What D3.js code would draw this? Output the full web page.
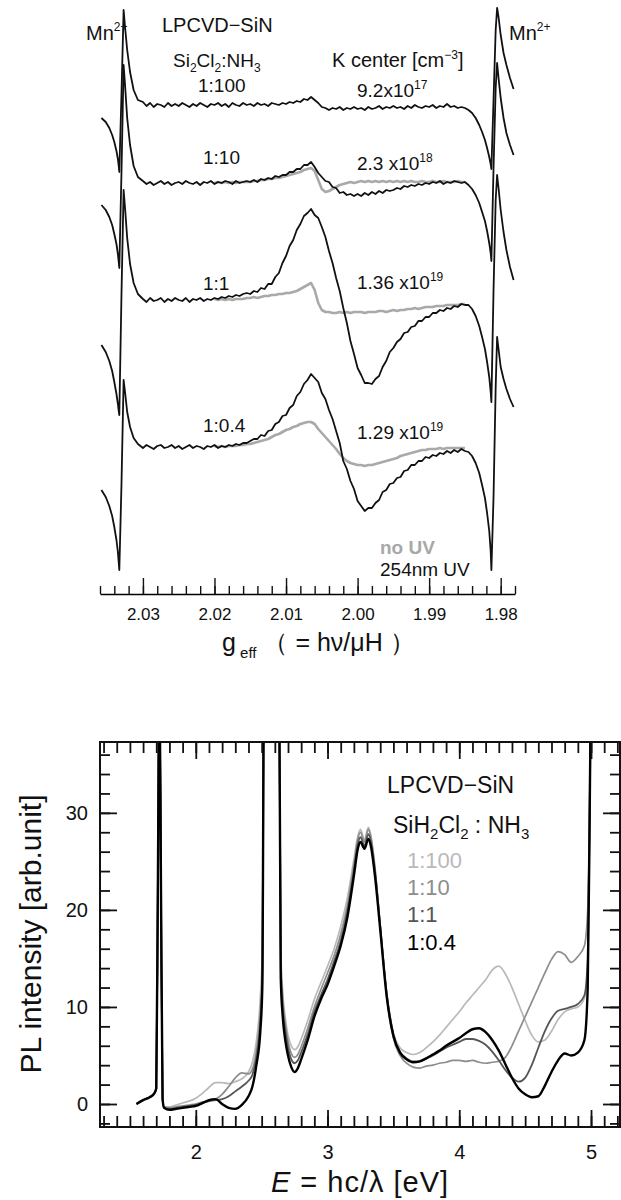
<!DOCTYPE html>
<html>
<head>
<meta charset="utf-8">
<script src="https://cdn.jsdelivr.net/npm/d3@7"></script>
<style>
  body { margin: 0; background: #fff; }
  svg { display: block; }
  text { font-family: "Liberation Sans", Arial, sans-serif; fill: #111; }
</style>
</head>
<body>
<svg id="fig" width="621" height="1200"></svg>
<script>
// ================= EPR spectra (upper panel) =================
// g-value sampling grid shared by all EPR traces
const gGrid = [
  2.0358, 2.0352, 2.0347, 2.0343, 2.0340, 2.0337, 2.0335, 2.0334, 2.0333, 2.0330, 2.0327, 2.0325, 2.0322, 2.0318, 2.0313, 2.0307,
  2.0300, 2.0295, 2.0290, 2.0285, 2.0280, 2.0275, 2.0270, 2.0265, 2.0260, 2.0255,
  2.0250, 2.0245, 2.0240, 2.0235, 2.0230, 2.0225, 2.0220, 2.0215, 2.0210, 2.0205,
  2.0200, 2.0195, 2.0190, 2.0185, 2.0180, 2.0175, 2.0170, 2.0165, 2.0160, 2.0155,
  2.0150, 2.0145, 2.0140, 2.0135, 2.0130, 2.0125, 2.0120, 2.0115, 2.0110, 2.0105,
  2.0100, 2.0095, 2.0090, 2.0085, 2.0080, 2.0075, 2.0070, 2.0065, 2.0060, 2.0055,
  2.0050, 2.0045, 2.0040, 2.0035, 2.0030, 2.0025, 2.0020, 2.0015, 2.0010, 2.0005,
  2.0000, 1.9995, 1.9990, 1.9985, 1.9980, 1.9975, 1.9970, 1.9965, 1.9960, 1.9955,
  1.9950, 1.9945, 1.9940, 1.9935, 1.9930, 1.9925, 1.9920, 1.9915, 1.9910, 1.9905,
  1.9900, 1.9895, 1.9890, 1.9885, 1.9880, 1.9875, 1.9870, 1.9865, 1.9860, 1.9855,
  1.9850,
  1.9845, 1.9840, 1.9835, 1.9830, 1.9826, 1.9822, 1.9819, 1.9816, 1.9814, 1.9813, 1.9810, 1.9807, 1.9805, 1.9803, 1.9800, 1.9796, 1.9792, 1.9787, 1.9782
];

// 254 nm UV irradiated spectra (arb. units, relative to each trace's baseline)
const epr100 = [
  -13,-17,-23,-30,-37,-46,-54,-60,-67,10,95,78,55,33,15,5,
  3,-1,2,-2,1,0,-2,2,-1,1,
  -1,2,0,-2,1,-1,2,0,-2,1,
  0,2,-1,1,-2,2,0,-1,2,0,
  1,-1,2,0,1,-1,2,1,0,2,
  1,3,2,4,3,6,5,8,5,2,
  -2,-3,-5,-3,-4,-2,-5,-3,-4,-2,
  -4,-3,-5,-2,-4,-3,-1,-4,-2,-3,
  -1,-3,-2,-4,-1,-3,0,-2,-3,-1,
  -2,0,-3,-1,-2,1,-2,-1,-3,-2,
  -3,
  -5,-8,-13,-20,-27,-35,-43,-52,-59,-64,5,75,97,88,70,52,40,27,16
];
const epr10 = [
  -22,-27,-34,-42,-51,-61,-71,-78,-85,10,118,98,65,38,17,6,
  2,-1,1,-2,0,2,-1,1,-2,0,
  1,-1,2,0,-1,1,-2,1,0,2,
  -1,1,0,2,1,-1,2,0,1,2,
  1,3,1,4,3,5,4,7,6,8,
  8,11,11,14,14,18,18,21,16,10,
  6,2,1,-4,-5,-10,-9,-12,-11,-13,
  -11,-13,-10,-12,-9,-11,-8,-10,-7,-8,
  -7,-5,-6,-3,-4,-2,-3,-1,-2,0,
  -1,1,0,2,-1,1,0,2,1,0,
  1,
  -2,-6,-12,-20,-29,-38,-48,-60,-70,-78,15,95,120,105,85,65,50,38,28
];
const epr1 = [
  -45,-52,-61,-71,-82,-94,-104,-110,-115,5,110,92,62,36,17,6,
  1,-2,2,-1,0,2,-2,1,-1,2,
  0,-1,2,-2,1,0,2,-1,1,0,
  2,1,3,2,4,3,5,4,6,7,
  6,9,8,12,11,16,16,23,27,37,
  44,54,60,70,76,84,87,91,85,82,
  73,63,49,37,22,9,-8,-23,-41,-54,
  -68,-75,-83,-83,-84,-79,-76,-67,-61,-52,
  -48,-42,-39,-33,-32,-27,-26,-21,-21,-17,
  -17,-13,-13,-10,-11,-8,-9,-6,-7,-4,
  -5,
  -5,-9,-16,-26,-37,-49,-62,-77,-92,-102,10,100,125,112,90,68,50,33,20
];
const epr04 = [
  -43,-50,-59,-69,-80,-93,-105,-114,-123,-38,67,55,35,20,9,3,
  -1,2,0,-2,1,2,-1,0,2,-1,
  1,-2,0,2,-1,1,0,-2,1,0,
  2,-1,1,0,2,1,3,2,4,4,
  6,8,8,12,11,16,17,23,25,31,
  32,39,42,51,55,63,67,73,69,65,
  54,48,37,28,16,4,-14,-22,-34,-42,
  -54,-59,-64,-61,-61,-56,-53,-45,-43,-37,
  -36,-31,-30,-24,-23,-18,-18,-14,-14,-10,
  -11,-8,-9,-6,-7,-4,-6,-3,-5,-2,
  -4,
  -5,-9,-16,-26,-38,-51,-66,-84,-104,-123,-50,60,110,98,80,68,58,48,40
];

// spectra without UV, g = 2.0200 ... 1.9850
const noUV10 = [
  0,1,0,1,0,1,0,1,1,1,
  1,2,2,3,3,4,4,5,5,6,
  7,8,9,10,11,13,14,15,12,3,
  -6,-9,-8,-6,-4,-2,-1,0,1,0,
  1,2,1,2,1,2,1,2,1,2,
  1,2,1,2,1,2,1,1,2,1,
  1,2,1,1,2,1,1,1,2,1,1
];
const noUV1 = [
  1,0,1,0,1,0,1,1,1,2,
  2,3,2,3,4,4,5,5,6,6,
  7,7,8,9,11,13,15,17,10,-3,
  -10,-12,-12,-13,-13,-12,-13,-12,-13,-12,
  -12,-12,-13,-12,-12,-12,-11,-11,-12,-11,
  -10,-11,-10,-10,-9,-9,-8,-9,-8,-7,
  -7,-7,-6,-6,-6,-5,-5,-5,-5,-4,-4
];
const noUV04 = [
  1,0,1,0,1,1,1,2,2,3,
  3,4,5,6,7,8,10,12,13,15,
  17,18,20,21,23,24,25,25,23,18,
  14,10,6,2,-2,-7,-11,-14,-16,-17,
  -18,-18,-19,-18,-18,-17,-16,-15,-14,-13,
  -12,-11,-9,-8,-7,-6,-5,-4,-3,-3,
  -2,-2,-2,-1,-2,-1,-1,-1,-1,-1,-1
];

const ratioLabels = ["1:100", "1:10", "1:1", "1:0.4"];
const kMantissa = ["9.2x10", "2.3 x10", "1.36 x10", "1.29 x10"];
const kExponent = ["17", "18", "19", "19"];
const gMajorTicks = [2.03, 2.02, 2.01, 2.00, 1.99, 1.98];

// ================= PL spectra (lower panel) =================
const plEnergy = [
  1.55, 1.60, 1.65, 1.68, 1.70, 1.712, 1.724, 1.736, 1.748, 1.76,
  1.80, 1.85, 1.90, 1.95, 2.00, 2.05, 2.10, 2.15, 2.20, 2.25,
  2.30, 2.35, 2.40, 2.43, 2.46, 2.49, 2.505, 2.52, 2.63, 2.645,
  2.66, 2.68, 2.70, 2.725, 2.75, 2.775, 2.80, 2.85, 2.90, 2.95,
  3.00, 3.05, 3.10, 3.15, 3.20, 3.23, 3.25, 3.28, 3.31, 3.33,
  3.36, 3.40, 3.45, 3.50, 3.55, 3.60, 3.65, 3.70, 3.75, 3.80,
  3.85, 3.90, 3.95, 4.00, 4.05, 4.10, 4.15, 4.20, 4.25, 4.30,
  4.35, 4.40, 4.45, 4.50, 4.55, 4.60, 4.65, 4.70, 4.75, 4.80,
  4.85, 4.90, 4.95, 4.975, 4.99, 5.00
];
const pl100 = [
  0.0, 0.4, 0.7, 1.0, 1.6, 22, 45, 22, 0.5, -0.3,
  -0.3, -0.1, 0.1, 0.3, 0.6, 1.1, 1.7, 2.2, 2.2, 2.1,
  2.3, 2.6, 3.3, 4.3, 6.5, 11, 16, 50, 50, 16,
  11.5, 8.8, 7.1, 6.0, 5.6, 5.9, 6.7, 8.6, 10.8, 12.5,
  14.2, 16.0, 18.3, 21.2, 25.2, 27.6, 28.3, 27.2, 28.5, 27.6,
  24.4, 18.5, 11.3, 7.3, 5.8, 5.3, 5.1, 5.3, 5.8, 6.4,
  7.1, 7.9, 8.7, 9.5, 10.4, 11.2, 12.0, 12.8, 13.8, 14.2,
  13.4, 12.0, 10.3, 8.6, 7.1, 6.4, 6.6, 7.5, 8.7, 9.5,
  9.8, 10.0, 10.9, 14, 30, 45
];
const pl10 = [
  0.0, 0.4, 0.7, 1.0, 1.6, 22, 45, 22, 0.5, -0.3,
  -0.4, -0.3, -0.2, -0.1, 0.0, 0.2, 0.3, 0.5, 1.0, 1.8,
  2.7, 3.2, 3.1, 3.6, 5.5, 9.5, 14, 50, 50, 15,
  10.8, 8.2, 6.5, 5.2, 4.8, 5.1, 5.9, 7.8, 10.0, 11.8,
  13.5, 15.3, 17.5, 20.4, 24.6, 27.3, 28.0, 27.0, 28.3, 27.4,
  24.3, 18.3, 11.0, 6.8, 5.0, 4.2, 3.8, 3.7, 3.9, 4.0,
  4.2, 4.3, 4.5, 4.5, 4.4, 4.5, 4.3, 4.2, 4.3, 4.4,
  4.8, 6.0, 7.5, 9.0, 10.5, 12.0, 13.5, 14.9, 15.7, 15.4,
  14.6, 15.2, 16.3, 20, 32, 45
];
const pl1 = [
  0.0, 0.4, 0.7, 1.0, 1.6, 22, 45, 22, 0.5, -0.4,
  -0.5, -0.4, -0.3, -0.2, -0.1, 0.1, 0.3, 0.4, 0.5, 0.8,
  1.3, 1.8, 2.4, 3.0, 4.8, 8.5, 13, 50, 50, 14,
  10.0, 7.5, 5.8, 4.6, 4.2, 4.5, 5.3, 7.2, 9.5, 11.2,
  12.8, 14.7, 16.8, 19.8, 24.0, 26.8, 27.5, 26.6, 27.8, 27.0,
  24.0, 18.3, 11.3, 7.2, 5.4, 4.7, 4.4, 4.4, 4.7, 5.0,
  5.4, 5.8, 6.1, 6.4, 6.7, 6.7, 6.5, 6.1, 5.4, 4.5,
  3.5, 2.7, 2.3, 2.7, 4.0, 5.8, 7.5, 8.8, 9.6, 9.8,
  10.0, 10.3, 11.2, 15, 30, 45
];
const pl04 = [
  0.0, 0.4, 0.7, 1.0, 1.6, 22, 45, 22, 0.5, -0.4,
  -0.6, -0.5, -0.4, -0.3, -0.2, 0.1, 0.4, 0.5, 0.0, -0.4,
  -0.5, -0.1, 0.8, 1.8, 4.0, 7.5, 12, 50, 50, 13,
  9.0, 6.5, 5.0, 3.8, 3.3, 3.7, 4.6, 6.6, 9.0, 10.8,
  12.3, 14.2, 16.3, 19.2, 23.5, 26.3, 27.0, 26.3, 27.3, 26.5,
  23.5, 18.0, 11.0, 7.0, 5.3, 4.6, 4.3, 4.4, 4.7, 5.1,
  5.5, 6.0, 6.4, 6.8, 7.3, 7.7, 7.8, 7.4, 6.6, 5.5,
  4.1, 2.7, 1.6, 1.0, 0.7, 0.8, 1.9, 3.3, 4.5, 5.2,
  5.0, 5.3, 6.6, 12, 30, 45
];
const plLabels = ["1:100", "1:10", "1:1", "1:0.4"];
const eMajorTicks = [2, 3, 4, 5];
const iMajorTicks = [0, 10, 20, 30];

// ---------------------------------------------------------------
const svg = d3.select("#fig");

// helper: text made of runs, each run [string, baseline shift in px]
function richText(parent, x, y, runs, size, smallSize, attrs = {}) {
  const t = parent.append("text").attr("x", x).attr("y", y).attr("font-size", size);
  Object.entries(attrs).forEach(([k, v]) => t.attr(k, v));
  let cur = 0;
  runs.forEach(([s, shift]) => {
    t.append("tspan")
      .attr("dy", shift - cur)
      .attr("font-size", shift ? smallSize : size)
      .text(s);
    cur = shift;
  });
  return t;
}

// ---------- upper panel ----------
const xG = d3.scaleLinear().domain([2.036, 1.978]).range([100, 515]);
const yE = d3.scaleLinear().domain([0, 600]).range([600, 0]);
const eprBase = [495, 417, 300, 153]; // vertical stacking of the four traces
const eprAxisY = 594;

const upper = svg.append("g");
const eprLine = base => d3.line()
  .x(d => xG(d[0]))
  .y(d => yE(base + d[1]));

const gNoUV = gGrid.slice(36, 107);
[[noUV10, 1], [noUV1, 2], [noUV04, 3]].forEach(([vals, i]) => {
  upper.append("path")
    .datum(gNoUV.map((g, j) => [g, vals[j]]))
    .attr("d", eprLine(eprBase[i]))
    .attr("fill", "none")
    .attr("stroke", "#a9a9a9")
    .attr("stroke-width", 2.6)
    .attr("stroke-linejoin", "round");
});
[epr100, epr10, epr1, epr04].forEach((vals, i) => {
  upper.append("path")
    .datum(gGrid.map((g, j) => [g, vals[j]]))
    .attr("d", eprLine(eprBase[i]))
    .attr("fill", "none")
    .attr("stroke", "#111")
    .attr("stroke-width", 1.8)
    .attr("stroke-linejoin", "round");
});

// g axis
const gMinor = d3.range(0, 30).map(k => +(2.036 - k * 0.002).toFixed(3));
upper.append("g")
  .attr("transform", `translate(0,${eprAxisY})`)
  .call(d3.axisBottom(xG).tickValues(gMinor).tickSizeInner(-8).tickSizeOuter(0).tickFormat(""))
  .call(g => g.select(".domain").attr("stroke-width", 1.6));
upper.append("g")
  .attr("transform", `translate(0,${eprAxisY})`)
  .call(d3.axisBottom(xG).tickValues(gMajorTicks).tickSizeInner(-16).tickSizeOuter(0)
    .tickPadding(14).tickFormat(d3.format(".2f")))
  .call(g => g.select(".domain").remove())
  .call(g => g.selectAll("text").attr("font-size", 17).attr("font-family", "Liberation Sans, Arial, sans-serif").attr("fill", "#111"));
upper.selectAll(".tick line").attr("stroke", "#111").attr("stroke-width", 1.4);

// g axis title
const gTitle = upper.append("text")
  .attr("x", 222).attr("y", 651)
  .attr("font-family", "Liberation Serif, Times New Roman, serif")
  .attr("font-size", 25);
gTitle.append("tspan").text("g");
gTitle.append("tspan").attr("dy", 7).attr("font-size", 15).attr("font-family", "Liberation Sans, Arial, sans-serif").text(" eff");
gTitle.append("tspan").attr("dy", -7).text(" （ = hν/μH ）");

// annotations
const fs = 19;
richText(upper, 86, 40, [["Mn", 0], ["2+", -9]], 20, 12);
richText(upper, 509, 40, [["Mn", 0], ["2+", -9]], 20, 12);
upper.append("text").attr("x", 162).attr("y", 32).attr("font-size", 20).text("LPCVD\u2212SiN");
richText(upper, 173, 67, [["Si", 0], ["2", 5], ["Cl", 0], ["2", 5], [":NH", 0], ["3", 5]], fs, 12);
richText(upper, 332, 67, [["K center [cm", 0], ["\u22123", -8], ["]", 0]], 20, 12);

const ratioY = [92, 164, 290, 432];
const kY = [97, 170, 289, 439];
ratioLabels.forEach((s, i) => {
  upper.append("text").attr("x", i === 0 ? 198 : 203).attr("y", ratioY[i]).attr("font-size", fs).text(s);
  richText(upper, 357, kY[i], [[kMantissa[i], 0], [kExponent[i], -8]], fs, 12);
});
upper.append("text").attr("x", 380).attr("y", 554).attr("font-size", fs)
  .attr("font-weight", "bold").style("fill", "#a8a8a8").text("no UV");
upper.append("text").attr("x", 380).attr("y", 576).attr("font-size", fs).text("254nm UV");

// ---------- lower panel ----------
const pl = { left: 100, right: 620, top: 742, bottom: 1127 };
const xP = d3.scaleLinear().domain([1.273, 5.22]).range([pl.left, pl.right]);
const yP = d3.scaleLinear().domain([-2.37, 37.3]).range([pl.bottom, pl.top]);

const lower = svg.append("g");
lower.append("clipPath").attr("id", "plClip")
  .append("rect")
  .attr("x", pl.left).attr("y", pl.top)
  .attr("width", pl.right - pl.left).attr("height", pl.bottom - pl.top);

const plLine = d3.line().curve(d3.curveMonotoneX).x(d => xP(d[0])).y(d => yP(d[1]));
const plColors = ["#b9b9b9", "#8d8d8d", "#555555", "#000000"];
const plWidths = [1.7, 1.7, 1.8, 2.4];
[pl100, pl10, pl1, pl04].forEach((vals, i) => {
  lower.append("path")
    .datum(plEnergy.map((e, j) => [e, vals[j]]))
    .attr("clip-path", "url(#plClip)")
    .attr("d", plLine)
    .attr("fill", "none")
    .attr("stroke", plColors[i])
    .attr("stroke-width", plWidths[i])
    .attr("stroke-linejoin", "round");
});

// ticks on all four sides, pointing inward
const eMinor = d3.range(13, 53).map(k => k / 10);
const iMinor = d3.range(-1, 19).map(k => k * 2);
const noDomain = g => g.select(".domain").remove();
lower.append("g").attr("transform", `translate(0,${pl.bottom})`)
  .call(d3.axisBottom(xP).tickValues(eMinor).tickSizeInner(-11).tickSizeOuter(0).tickFormat("")).call(noDomain);
lower.append("g").attr("transform", `translate(0,${pl.bottom})`)
  .call(d3.axisBottom(xP).tickValues(eMajorTicks).tickSizeInner(-17).tickSizeOuter(0).tickPadding(18).tickFormat(d3.format("d")))
  .call(noDomain);
lower.append("g").attr("transform", `translate(0,${pl.top})`)
  .call(d3.axisTop(xP).tickValues(eMinor).tickSizeInner(-11).tickSizeOuter(0).tickFormat("")).call(noDomain);
lower.append("g").attr("transform", `translate(0,${pl.top})`)
  .call(d3.axisTop(xP).tickValues(eMajorTicks).tickSizeInner(-17).tickSizeOuter(0).tickFormat("")).call(noDomain);
lower.append("g").attr("transform", `translate(${pl.left},0)`)
  .call(d3.axisLeft(yP).tickValues(iMinor).tickSizeInner(-10).tickSizeOuter(0).tickFormat("")).call(noDomain);
lower.append("g").attr("transform", `translate(${pl.left},0)`)
  .call(d3.axisLeft(yP).tickValues(iMajorTicks).tickSizeInner(-17).tickSizeOuter(0).tickPadding(12).tickFormat(d3.format("d")))
  .call(noDomain);
lower.append("g").attr("transform", `translate(${pl.right},0)`)
  .call(d3.axisRight(yP).tickValues(iMinor).tickSizeInner(-10).tickSizeOuter(0).tickFormat("")).call(noDomain);
lower.append("g").attr("transform", `translate(${pl.right},0)`)
  .call(d3.axisRight(yP).tickValues(iMajorTicks).tickSizeInner(-17).tickSizeOuter(0).tickFormat("")).call(noDomain);
lower.selectAll(".tick line").attr("stroke", "#111").attr("stroke-width", 1.8);
lower.selectAll(".tick text").attr("font-size", 20).attr("font-family", "Liberation Sans, Arial, sans-serif").attr("fill", "#111");

lower.append("rect")
  .attr("x", pl.left).attr("y", pl.top)
  .attr("width", pl.right - pl.left).attr("height", pl.bottom - pl.top)
  .attr("fill", "none").attr("stroke", "#111").attr("stroke-width", 2);

// axis titles
const xTitle = lower.append("text").attr("x", 360).attr("y", 1192)
  .attr("text-anchor", "middle").attr("font-size", 29).attr("letter-spacing", 1);
xTitle.append("tspan").attr("font-style", "italic").text("E");
xTitle.append("tspan").text(" = hc/\u03bb [eV]");

lower.append("text")
  .attr("transform", "translate(41,934) rotate(-90)")
  .attr("text-anchor", "middle").attr("font-size", 30)
  .text("PL intensity [arb.unit]");

// legend
lower.append("text").attr("x", 387).attr("y", 793).attr("font-size", 23).text("LPCVD\u2212SiN");
richText(lower, 393, 833, [["SiH", 0], ["2", 6], ["Cl", 0], ["2", 6], [" : NH", 0], ["3", 6]], 23, 15);
const legendY = [868, 895, 922, 950];
plLabels.forEach((s, i) => {
  lower.append("text").attr("x", 407).attr("y", legendY[i]).attr("font-size", 22)
    .style("fill", plColors[i]).text(s);
});
</script>
</body>
</html>
